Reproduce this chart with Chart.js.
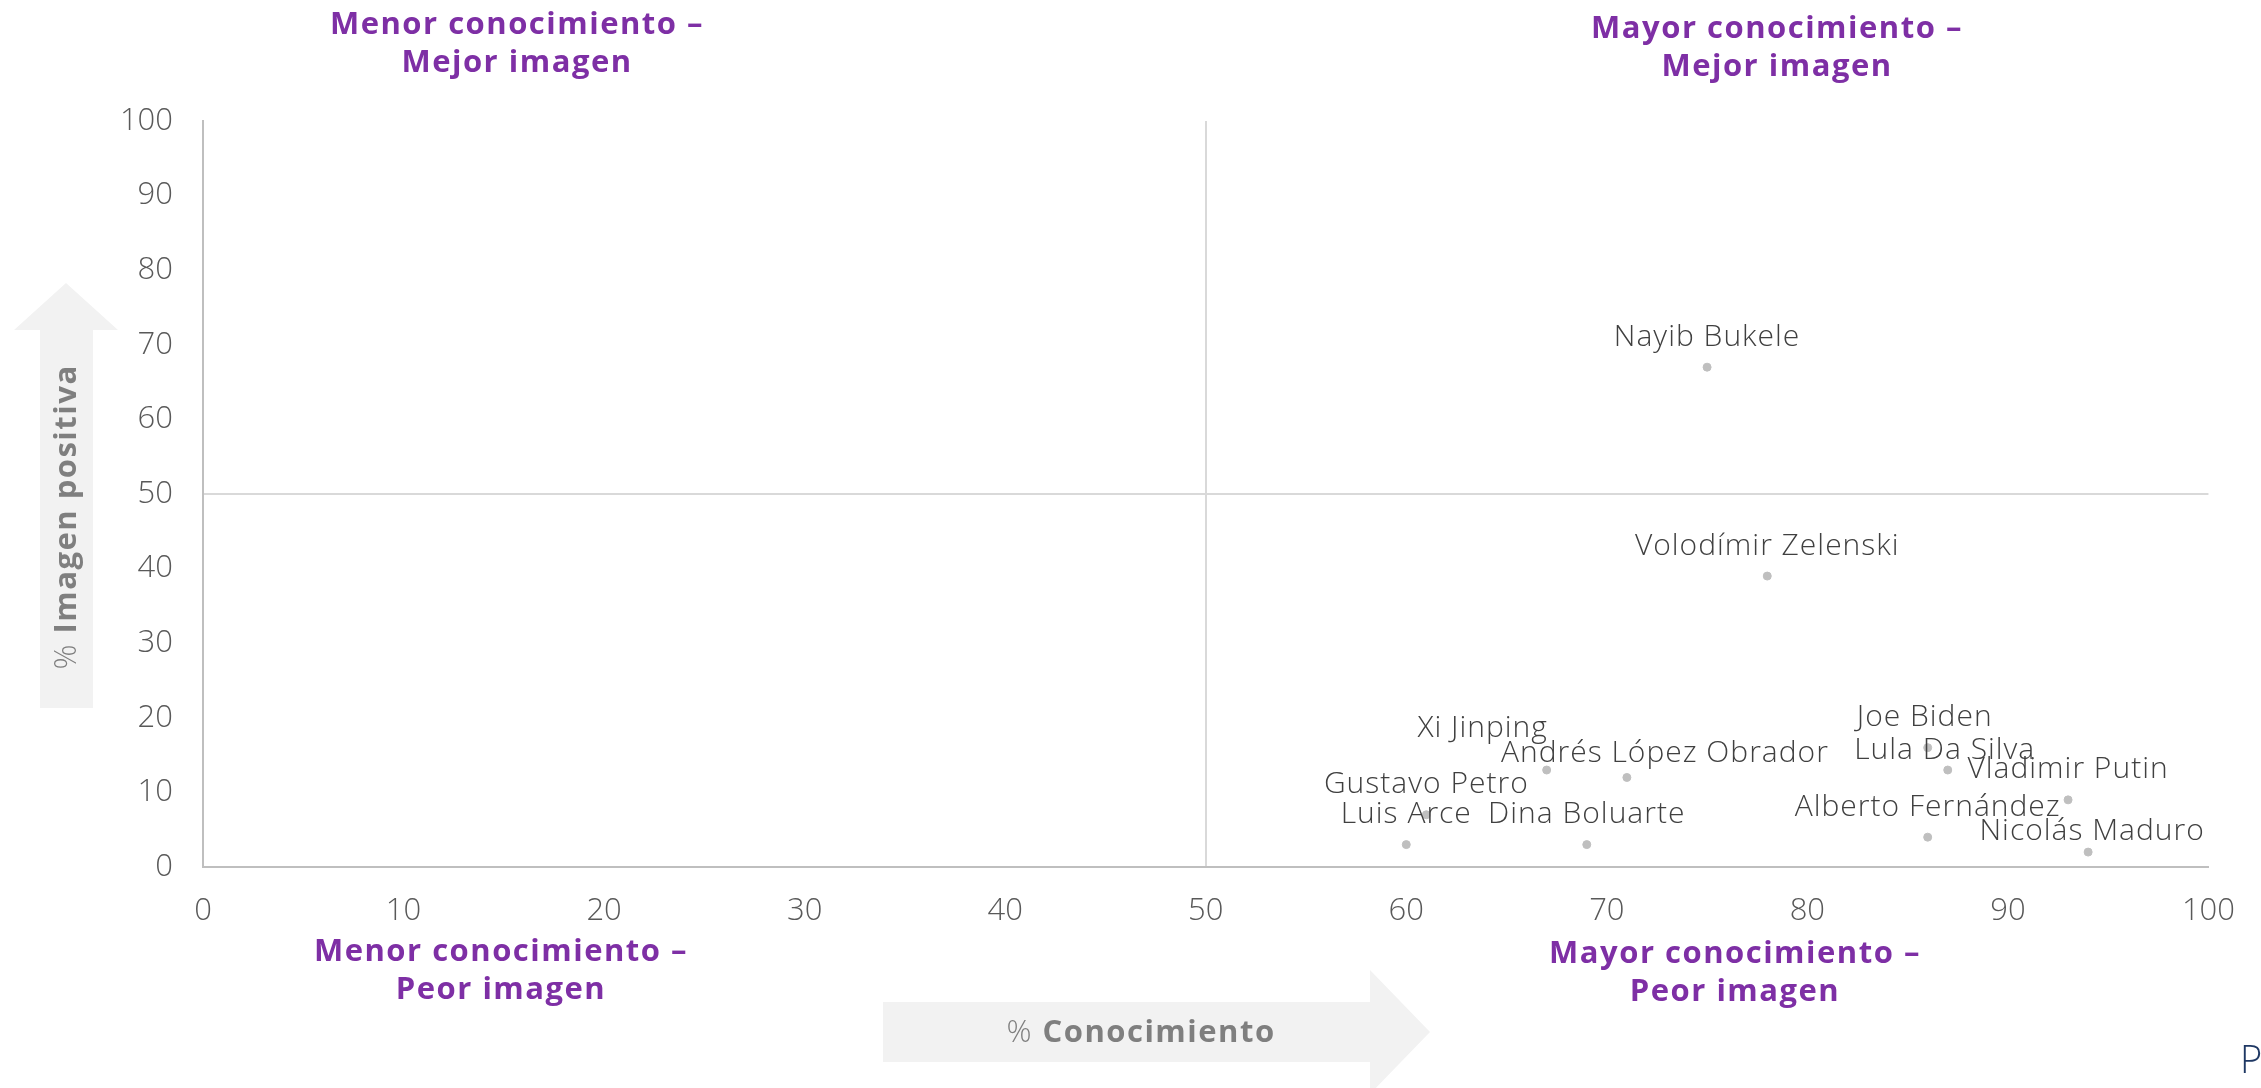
<!DOCTYPE html>
<html>
<head>
<meta charset="utf-8">
<script src="https://cdn.jsdelivr.net/npm/chart.js"></script>
<style>
    html, body { margin: 0; padding: 0; background: #fff; }
    #wrap { position: relative; width: 2261px; height: 1088px; }
    canvas { display: block; }
</style>
</head>
<body>
<div id="wrap"><canvas id="mapChart" width="2261" height="1088"></canvas></div>
<script>
// ============================================================
// Datos
// ============================================================
const names = ['Nayib Bukele', 'Volodímir Zelenski', 'Xi Jinping', 'Andrés López Obrador',
    'Joe Biden', 'Lula Da Silva', 'Vladimir Putin', 'Gustavo Petro', 'Luis Arce',
    'Dina Boluarte', 'Alberto Fernández', 'Nicolás Maduro'];
const conocimiento = [75, 78, 67, 71, 86, 87, 93, 61, 60, 69, 86, 94];
const imagenPositiva = [67, 39, 13, 12, 16, 13, 9, 7, 3, 3, 4, 2];
const axisTicks = [0, 10, 20, 30, 40, 50, 60, 70, 80, 90, 100];

// desplazamiento de etiquetas (px) respecto al punto
const labelShift = {
    'Xi Jinping': [-64, -42],
    'Andrés López Obrador': [38, -24],
    'Joe Biden': [-3, -30],
    'Lula Da Silva': [-3, -20],
    'Nicolás Maduro': [4, -21]
};

const FONT = "'Open Sans', 'Noto Sans', sans-serif";
const PURPLE = '#7E2FA5';

// ============================================================
// Plugins
// ============================================================
const pointLabels = {
    id: 'pointLabels',
    afterDatasetsDraw(chart) {
        const ctx = chart.ctx;
        const meta = chart.getDatasetMeta(0);
        ctx.save();
        ctx.font = `300 30px ${FONT}`;
        ctx.letterSpacing = '1px';
        ctx.fillStyle = '#404040';
        ctx.textAlign = 'center';
        ctx.textBaseline = 'middle';
        meta.data.forEach((pt, i) => {
            const s = labelShift[names[i]] || [0, -30];
            ctx.fillText(names[i], pt.x + s[0], pt.y + s[1]);
        });
        ctx.restore();
    }
};

// texto con "% " fino y el resto en negrita, centrado en (0, 0)
function mixedTitle(ctx, rest) {
    ctx.letterSpacing = '1.5px';
    ctx.font = `300 31px ${FONT}`;
    const w1 = ctx.measureText('% ').width;
    ctx.font = `bold 31px ${FONT}`;
    const w2 = ctx.measureText(rest).width;
    const x0 = -(w1 + w2) / 2;
    ctx.textAlign = 'left';
    ctx.textBaseline = 'middle';
    ctx.font = `300 31px ${FONT}`;
    ctx.fillText('% ', x0, 1);
    ctx.font = `bold 31px ${FONT}`;
    ctx.fillText(rest, x0 + w1, 1);
}

const decorations = {
    id: 'decorations',
    beforeDraw(chart) {
        const ctx = chart.ctx;
        ctx.save();
        ctx.fillStyle = '#F2F2F2';
        // flecha horizontal
        ctx.beginPath();
        ctx.moveTo(883, 1002); ctx.lineTo(1370, 1002); ctx.lineTo(1370, 970);
        ctx.lineTo(1430, 1032); ctx.lineTo(1370, 1094); ctx.lineTo(1370, 1062);
        ctx.lineTo(883, 1062); ctx.closePath(); ctx.fill();
        // flecha vertical
        ctx.beginPath();
        ctx.moveTo(40, 708); ctx.lineTo(40, 330); ctx.lineTo(14, 330);
        ctx.lineTo(66, 283); ctx.lineTo(118, 330); ctx.lineTo(93, 330);
        ctx.lineTo(93, 708); ctx.closePath(); ctx.fill();
        ctx.restore();
    },
    afterDraw(chart) {
        const ctx = chart.ctx;
        ctx.save();
        ctx.textBaseline = 'middle';
        ctx.textAlign = 'center';
        ctx.fillStyle = PURPLE;
        ctx.letterSpacing = '1.5px';
        ctx.font = `bold 31px ${FONT}`;
        const quad = [
            [517, 25, 'Menor conocimiento –', 'Mejor imagen'],
            [1777, 29, 'Mayor conocimiento –', 'Mejor imagen'],
            [501, 952, 'Menor conocimiento –', 'Peor imagen'],
            [1735, 954, 'Mayor conocimiento –', 'Peor imagen']
        ];
        quad.forEach(q => {
            ctx.fillText(q[2], q[0], q[1]);
            ctx.fillText(q[3], q[0], q[1] + 38);
        });
        ctx.restore();

        // títulos de ejes
        ctx.save();
        ctx.fillStyle = '#7F7F7F';
        ctx.translate(1141, 1032);
        mixedTitle(ctx, 'Conocimiento');
        ctx.restore();

        ctx.save();
        ctx.fillStyle = '#7F7F7F';
        ctx.translate(66, 517);
        ctx.rotate(-Math.PI / 2);
        mixedTitle(ctx, 'Imagen positiva');
        ctx.restore();

        ctx.save();
        ctx.fillStyle = '#1F3864';
        ctx.font = `300 38px ${FONT}`;
        ctx.textAlign = 'left';
        ctx.textBaseline = 'middle';
        ctx.fillText('P', 2240, 1062);
        ctx.restore();
    }
};

// ============================================================
// Gráfico
// ============================================================
const quadGrid = c => c.tick && c.tick.value === 50 ? '#D9D9D9' : 'rgba(0,0,0,0)';
const tickFont = { family: FONT, size: 31, weight: '300' };

new Chart(document.getElementById('mapChart'), {
    type: 'scatter',
    data: {
        datasets: [{
            label: 'Líderes',
            data: names.map((n, i) => ({ x: conocimiento[i], y: imagenPositiva[i] })),
            backgroundColor: '#BFBFBF',
            borderColor: '#BFBFBF',
            pointRadius: 4,
            pointHoverRadius: 4
        }]
    },
    options: {
        responsive: false,
        animation: false,
        devicePixelRatio: 1,
        layout: { padding: { left: 0, top: 121, right: 50, bottom: 161 } },
        plugins: {
            legend: { display: false },
            tooltip: { enabled: false }
        },
        scales: {
            x: {
                type: 'linear',
                min: 0, max: 100,
                afterFit: s => { s.height = 60; },
                afterBuildTicks: s => { s.ticks = axisTicks.map(v => ({ value: v })); },
                ticks: { color: '#595959', font: tickFont, padding: 26 },
                grid: { color: quadGrid, lineWidth: 2, drawTicks: false },
                border: { color: '#BFBFBF', width: 2 }
            },
            y: {
                type: 'linear',
                min: 0, max: 100,
                afterFit: s => { s.width = 203; },
                afterBuildTicks: s => { s.ticks = axisTicks.map(v => ({ value: v })); },
                ticks: { color: '#595959', font: tickFont, padding: 30 },
                grid: { color: quadGrid, lineWidth: 2, drawTicks: false },
                border: { color: '#BFBFBF', width: 2 }
            }
        }
    },
    plugins: [decorations, pointLabels]
});
</script>
</body>
</html>
